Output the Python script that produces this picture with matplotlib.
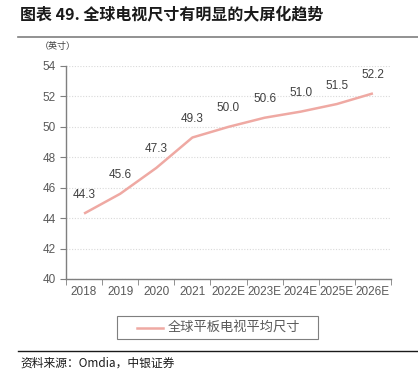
import matplotlib
matplotlib.use("Agg")
import matplotlib.pyplot as plt
from matplotlib.lines import Line2D
from matplotlib.patches import Rectangle

plt.rcParams['font.family'] = ['Liberation Sans', 'Noto Sans CJK SC', 'DejaVu Sans']

categories = ['2018', '2019', '2020', '2021', '2022E', '2023E', '2024E', '2025E', '2026E']
values = [44.3, 45.6, 47.3, 49.3, 50.0, 50.6, 51.0, 51.5, 52.2]
labels = ['44.3', '45.6', '47.3', '49.3', '50.0', '50.6', '51.0', '51.5', '52.2']
yticks = [40, 42, 44, 46, 48, 50, 52, 54]
series_name = '全球平板电视平均尺寸'
title = '图表 49. 全球电视尺寸有明显的大屏化趋势'
unit = '（英寸）'
source = '资料来源：Omdia，中银证券'

W, H = 418, 386
fig = plt.figure(figsize=(W/100, H/100), dpi=100)
ax = fig.add_axes([66/W, 1-279/H, (391-66)/W, (279-66)/H])

line_color = '#EFA9A3'
x = list(range(len(categories)))
ax.plot(x, values, color=line_color, lw=1.8, solid_capstyle='butt')
for xi, v, lab in zip(x, values, labels):
    ax.annotate(lab, (xi, v), xytext=(0, 9), textcoords='offset points',
                ha='center', va='bottom', fontsize=8.5, color='#404040')

ax.set_xlim(-0.5, len(categories)-0.5)
ax.set_ylim(40, 54)
ax.set_yticks(yticks)
ax.set_xticks(x)
ax.set_xticklabels(categories)
ax.set_xticks([i-0.5 for i in range(len(categories)+1)], minor=True)
ax.tick_params(axis='x', which='major', length=0, labelsize=8.5, labelcolor='#595959', pad=5)
ax.tick_params(axis='x', which='minor', length=4, color='#7f7f7f', direction='out')
ax.tick_params(axis='y', length=4, color='#7f7f7f', labelsize=8.5, labelcolor='#595959', direction='out')
for s in ['top', 'right']:
    ax.spines[s].set_visible(False)
for s in ['left', 'bottom']:
    ax.spines[s].set_color('#7f7f7f')
    ax.spines[s].set_linewidth(1.0)
ax.grid(axis='y', color='#D9D9D9', linestyle=(0, (1, 1.5)), lw=0.8)
ax.set_axisbelow(True)

# title
fig.text(20/W, 1-14/H, title, fontsize=11.5, fontweight='bold', color='#1a1a1a',
         ha='left', va='center', family=['Noto Sans CJK SC', 'DejaVu Sans'])
fig.add_artist(Line2D([18/W, 1], [1-37/H, 1-37/H], color='#7f7f7f', lw=1.2))
fig.text(40/W, 1-47/H, unit, fontsize=6.5, color='#404040', ha='left', va='center',
         family=['Noto Sans CJK SC', 'DejaVu Sans'])

# legend (drawn as a box with a line sample and label)
fig.add_artist(Rectangle((117/W, 1-339/H), (318-117)/W, (339-316)/H, transform=fig.transFigure,
                         facecolor='white', edgecolor='#7f7f7f', lw=0.8))
fig.add_artist(Line2D([137/W, 163/W], [1-327.5/H, 1-327.5/H], color=line_color, lw=1.8))
fig.text(168/W, 1-327.5/H, series_name, fontsize=9.5, color='#595959', ha='left', va='center',
         family=['Noto Sans CJK SC', 'DejaVu Sans'])

fig.add_artist(Line2D([18/W, 1], [1-351/H, 1-351/H], color='#1a1a1a', lw=1.0))
fig.text(20/W, 1-363/H, source, fontsize=8.5, style='italic', color='#1a1a1a',
         ha='left', va='center', family=['Noto Sans CJK SC', 'DejaVu Sans'])

fig.savefig('out.png', dpi=100)
